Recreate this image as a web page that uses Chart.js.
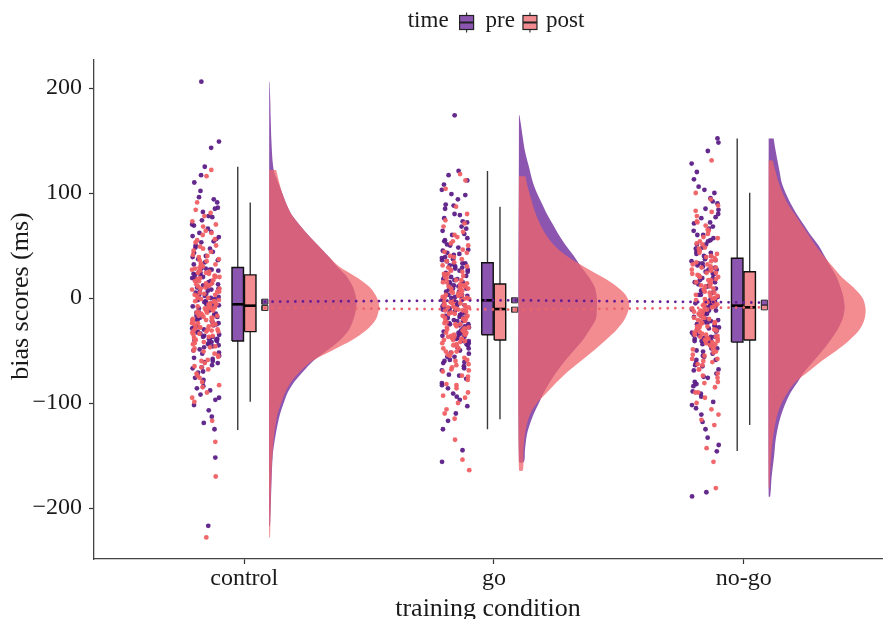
<!DOCTYPE html>
<html><head><meta charset="utf-8">
<script src="https://cdn.jsdelivr.net/npm/chart.js@4.4.0/dist/chart.umd.min.js"></script>
<style>html,body{margin:0;padding:0;background:#fff;}#wrap{width:886px;height:619px;}</style>
</head><body><div id="wrap"><canvas id="c" width="886" height="619"></canvas></div>
<script>
// ---------------- data ----------------
const conditions = ['control', 'go', 'no-go'];
const timeLabels = ['pre', 'post'];
const yTicks = [-200, -100, 0, 100, 200];
const yTitle = 'bias scores (ms)';
const xTitle = 'training condition';

const preControl = [206,149,143,125,117,110,102,96,91,86,82,78,74,70,66,62,59,56,53,50,47,44,40,37,34,31,
 28,27,25,24,22,21,19,18,16,15,13,12,10,9,8,6,5,3,2,1,-1,-2,-3,-4,-5,-6,
 -7,-9,-10,-11,-13,-14,-16,-17,-19,-20,-22,-23,-25,-26,-28,-29,-30,-32,-33,-35,-36,-37,-38,-39,-40,-41,
 -43,-45,-47,-50,-52,-55,-58,-60,-61,-64,-67,-70,-73,-76,-80,-84,-88,-92,-97,-102,-107,-113,-119,-125,-152,-217,
 32,36,39,43,48,54,58,63,69,77,85,94,-4,0,4,7,11,14,17,20,23,26,27,28,
 -8,-12,-15,-18,-21,-24,-27,-31,-34,-37,-39,-40,-42,-44,-46,-49,-53,-57,-62,-66,-71,-78,-86,-95];
const postControl = [122,116,91,84,78,73,68,64,60,56,53,50,47,44,41,39,37,35,33,31,29,28,26,25,24,23,
 21,20,19,18,17,16,14,13,12,11,10,9,8,6,5,4,3,2,0,-1,-2,-3,-4,-5,-6,-7,
 -8,-9,-10,-11,-12,-13,-14,-15,-16,-17,-18,-19,-20,-21,-22,-23,-24,-25,-26,-27,-28,-29,-30,-31,-32,-32,
 -34,-36,-38,-40,-42,-44,-46,-48,-50,-53,-56,-59,-62,-65,-68,-72,-76,-80,-85,-90,-95,-99,-117,-137,-170,-228,
 24,27,30,32,36,40,45,49,55,62,70,81,-6,-3,0,3,6,9,12,14,16,18,20,21,
 -8,-10,-12,-14,-17,-19,-21,-24,-26,-28,-30,-31,-33,-35,-37,-39,-43,-47,-51,-55,-60,-66,-74,-83];
const preGo = [174,121,117,112,108,103,98,94,89,85,80,76,72,68,64,60,57,54,51,48,45,43,41,39,37,35,
 33,32,30,29,27,26,24,23,21,20,18,17,15,14,12,11,9,8,6,5,3,2,1,0,-1,-2,
 -3,-4,-6,-7,-8,-10,-11,-12,-14,-15,-17,-18,-19,-21,-22,-24,-25,-26,-28,-29,-30,-31,-32,-33,-34,-35,
 -37,-39,-41,-43,-45,-47,-50,-53,-56,-59,-60,-62,-65,-69,-73,-77,-81,-86,-91,-97,-103,-110,-117,-125,-145,-156,
 36,38,42,46,50,55,61,66,73,79,88,99,0,3,6,9,12,15,18,21,25,28,31,33,
 -4,-7,-10,-13,-16,-19,-22,-25,-27,-30,-32,-34,-36,-38,-41,-44,-48,-52,-56,-61,-67,-74,-83,-94];
const postGo = [118,112,104,87,80,74,68,63,58,54,50,46,43,40,37,34,31,29,27,25,23,21,19,17,15,14,
 13,12,11,10,9,8,7,6,5,4,3,2,1,0,-1,-2,-3,-4,-5,-6,-7,-8,-9,-10,-10,-11,
 -12,-13,-14,-15,-17,-18,-19,-20,-22,-23,-24,-25,-27,-28,-29,-30,-32,-33,-34,-35,-36,-37,-38,-39,-40,-40,
 -42,-44,-46,-48,-51,-52,-54,-57,-60,-63,-66,-68,-70,-74,-78,-82,-86,-90,-95,-100,-106,-110,-115,-135,-154,-164,
 15,17,20,23,26,30,35,39,44,52,60,71,-9,-7,-5,-3,-1,1,3,5,7,9,11,12,
 -12,-15,-17,-20,-22,-25,-28,-31,-33,-35,-37,-39,-41,-43,-45,-48,-51,-55,-59,-64,-69,-75,-83,-93];
const preNogo = [152,148,140,128,120,113,106,100,95,90,85,80,76,72,68,64,60,57,54,51,48,46,44,42,40,39,
 37,35,33,31,29,27,25,23,21,19,17,15,13,11,9,7,5,3,1,-1,-2,-3,-4,-5,-6,-7,
 -8,-9,-11,-12,-14,-15,-17,-18,-20,-21,-23,-24,-26,-27,-29,-30,-32,-33,-35,-36,-37,-38,-39,-40,-41,-42,
 -44,-46,-48,-50,-53,-56,-59,-62,-65,-68,-72,-76,-80,-84,-89,-94,-99,-105,-111,-118,-125,-133,-140,-146,-185,-189,
 40,43,47,51,55,60,66,71,77,84,92,103,-5,-1,3,7,11,15,19,23,27,30,33,36,
 -9,-12,-15,-18,-22,-25,-28,-31,-34,-37,-39,-41,-43,-45,-48,-51,-55,-59,-64,-69,-75,-82,-91,-102];
const postNogo = [131,100,94,88,83,78,73,69,65,61,57,54,51,48,45,42,40,38,36,34,32,30,29,28,27,26,
 24,23,21,20,18,17,15,14,12,11,9,8,6,5,3,2,0,-1,-2,-3,-4,-5,-6,-7,-8,-9,
 -10,-11,-12,-14,-15,-16,-18,-19,-20,-22,-23,-24,-26,-27,-28,-30,-31,-32,-34,-35,-36,-37,-38,-39,-40,-40,
 -42,-44,-46,-48,-49,-52,-55,-58,-60,-61,-64,-68,-72,-76,-80,-85,-90,-95,-100,-106,-111,-116,-121,-143,-156,-181,
 27,29,32,35,39,43,47,52,58,64,72,82,-7,-4,-1,2,5,8,11,14,17,20,22,24,
 -11,-13,-16,-19,-21,-24,-27,-30,-33,-35,-37,-39,-41,-43,-45,-47,-51,-54,-58,-63,-68,-74,-81,-90];

// box-plot statistics (per condition)
const preQ1 = [-41, -35, -42];
const preMedian = [-6, -2.2, -7.3];
const preQ3 = [29, 33.6, 37.8];
const preLow = [-125.7, -125, -145.7];
const preHigh = [125, 121, 152];
const postQ1 = [-32, -40, -40];
const postMedian = [-7.3, -10.5, -8.9];
const postQ3 = [22, 13.3, 25];
const postLow = [-98.7, -115.5, -121];
const postHigh = [91, 87, 100.3];

// group means and their standard errors
const preMean = [-3.5, -2.2, -4.4];
const postMean = [-9.5, -11.1, -8.9];
const preSE = [2.4, 2.4, 2.4];
const postSE = [2.4, 2.4, 2.4];

// half-violin densities: [score, relative density]
const densPreControl = [[206,0.004],[190,0.01],[170,0.015],[150,0.022],[130,0.034],[120,0.05],[110,0.09],[100,0.13],[90,0.17],[80,0.22],[70,0.30],[60,0.39],[50,0.49],[40,0.59],[30,0.68],[20,0.78],[10,0.84],[0,0.87],[-10,0.87],[-20,0.845],[-30,0.80],[-40,0.71],[-50,0.58],[-60,0.44],[-70,0.34],[-80,0.25],[-90,0.185],[-100,0.145],[-110,0.11],[-120,0.085],[-130,0.065],[-140,0.048],[-150,0.035],[-170,0.025],[-190,0.018],[-217,0.008]];
const densPostControl = [[122,0.07],[110,0.10],[100,0.13],[90,0.17],[80,0.22],[70,0.30],[60,0.39],[50,0.49],[40,0.59],[30,0.70],[20,0.87],[10,1.01],[0,1.08],[-8,1.10],[-20,1.07],[-30,0.98],[-40,0.83],[-50,0.63],[-60,0.43],[-70,0.31],[-80,0.22],[-90,0.16],[-100,0.12],[-110,0.085],[-120,0.065],[-130,0.05],[-150,0.032],[-170,0.022],[-190,0.016],[-210,0.012],[-228,0.008]];
const densPreGo = [[174,0.005],[165,0.02],[155,0.035],[140,0.06],[125,0.10],[110,0.14],[100,0.18],[90,0.23],[80,0.28],[70,0.34],[60,0.40],[50,0.47],[40,0.55],[30,0.62],[20,0.70],[10,0.76],[0,0.78],[-10,0.78],[-20,0.77],[-30,0.71],[-40,0.64],[-50,0.55],[-60,0.46],[-70,0.38],[-80,0.31],[-90,0.25],[-100,0.20],[-110,0.15],[-120,0.11],[-130,0.08],[-145,0.06],[-156,0.05]];
const densPostGo = [[116,0.065],[105,0.09],[95,0.12],[85,0.15],[75,0.19],[65,0.24],[55,0.31],[45,0.41],[35,0.56],[25,0.74],[15,0.92],[5,1.05],[-3,1.10],[-10,1.10],[-20,1.06],[-30,0.98],[-40,0.87],[-50,0.75],[-60,0.62],[-70,0.49],[-80,0.38],[-90,0.28],[-100,0.18],[-110,0.115],[-120,0.08],[-130,0.06],[-145,0.045],[-164,0.04]];
const densPreNogo = [[152,0.05],[140,0.07],[130,0.09],[120,0.11],[110,0.13],[100,0.17],[90,0.22],[80,0.28],[70,0.35],[60,0.42],[50,0.50],[40,0.56],[30,0.62],[20,0.68],[10,0.72],[0,0.75],[-10,0.76],[-20,0.74],[-30,0.69],[-40,0.62],[-50,0.54],[-60,0.45],[-70,0.36],[-80,0.29],[-90,0.22],[-100,0.17],[-110,0.13],[-120,0.10],[-135,0.07],[-150,0.055],[-170,0.03],[-189,0.015]];
const densPostNogo = [[131,0.04],[120,0.07],[110,0.10],[100,0.14],[90,0.19],[80,0.26],[70,0.33],[60,0.40],[50,0.47],[40,0.55],[30,0.64],[20,0.73],[10,0.85],[0,0.94],[-10,0.97],[-20,0.96],[-30,0.91],[-40,0.81],[-50,0.68],[-60,0.53],[-70,0.40],[-80,0.27],[-90,0.19],[-100,0.13],[-110,0.09],[-120,0.065],[-135,0.04],[-150,0.025],[-165,0.015],[-181,0.008]];

// ---------------- presentation ----------------
const FONT = "'Liberation Serif', 'Times New Roman', Times, serif";
const TEXT = '#1a1a1a';
const PRE_FILL = 'rgba(101,28,148,0.75)';
const POST_FILL = 'rgba(237,101,108,0.75)';
const PRE_PT = 'rgba(92,30,135,0.95)';
const POST_PT = 'rgba(240,96,100,0.95)';
const PRE_LINE = 'rgb(101,28,148)';
const POST_LINE = 'rgb(237,101,108)';

const JIT_C = -0.154, JIT_H = 0.055;
const BOX_C = [-0.026, 0.024], BOX_H = 0.023;
const MEAN_X = 0.083, MEAN_H = 0.012;
const VIO_X = 0.1, VIO_S = 0.4;

const preScores = [preControl, preGo, preNogo];
const postScores = [postControl, postGo, postNogo];
const densPre = [densPreControl, densPreGo, densPreNogo];
const densPost = [densPostControl, densPostGo, densPostNogo];

function jit(i, seed) { const s = Math.sin(i * 12.9898 + seed * 78.233) * 43758.5453; return s - Math.floor(s); }

function lineDs(points, color, width, order, extra) {
  return Object.assign({ data: points, showLine: true, fill: false, borderColor: color, borderWidth: width,
    pointRadius: 0, tension: 0, order: order }, extra || {});
}
function rectDs(x0, x1, y0, y1, fill, stroke, w, order) {
  return { data: [{x:x0,y:y0},{x:x1,y:y0},{x:x1,y:y1},{x:x0,y:y1},{x:x0,y:y0}], showLine: true, fill: 'shape',
    backgroundColor: fill, borderColor: stroke, borderWidth: w, pointRadius: 0, tension: 0, order: order,
    borderJoinStyle: 'miter' };
}
function violinDs(cx, dens, fill, order) {
  const base = cx + VIO_X;
  const pts = dens.map(([v, d]) => ({ x: base + d * VIO_S, y: v }));
  pts.push({ x: base, y: dens[dens.length - 1][0] });
  pts.push({ x: base, y: dens[0][0] });
  return { data: pts, showLine: true, fill: 'shape', backgroundColor: fill, borderColor: 'rgba(0,0,0,0)',
    borderWidth: 0, pointRadius: 0, tension: 0.3, order: order };
}

const datasets = [];
for (let c = 0; c < conditions.length; c++) {
  const cx = c + 1;
  datasets.push(violinDs(cx, densPre[c], PRE_FILL, 9));
  datasets.push(violinDs(cx, densPost[c], POST_FILL, 8));
  datasets.push({ data: preScores[c].map((v, i) => ({ x: cx + JIT_C + JIT_H * (2 * jit(i, 0.31 + c) - 1), y: v })),
    showLine: false, pointRadius: 2.4, pointBackgroundColor: PRE_PT, pointBorderWidth: 0, order: 7 });
  datasets.push({ data: postScores[c].map((v, i) => ({ x: cx + JIT_C + JIT_H * (2 * jit(i, 0.77 + c) - 1), y: v })),
    showLine: false, pointRadius: 2.4, pointBackgroundColor: POST_PT, pointBorderWidth: 0, order: 6 });
  const stats = [
    [preQ1[c], preMedian[c], preQ3[c], preLow[c], preHigh[c], PRE_FILL],
    [postQ1[c], postMedian[c], postQ3[c], postLow[c], postHigh[c], POST_FILL]
  ];
  stats.forEach(([q1, med, q3, lo, hi, fill], k) => {
    const bx = cx + BOX_C[k];
    datasets.push(lineDs([{x:bx,y:hi},{x:bx,y:q3},{x:bx,y:null},{x:bx,y:q1},{x:bx,y:lo}], '#3a3a3a', 1.4, 5));
    datasets.push(rectDs(bx - BOX_H, bx + BOX_H, q1, q3, fill, '#111', 1.4, 4));
    datasets.push(lineDs([{x:bx-BOX_H,y:med},{x:bx+BOX_H,y:med}], '#000', 2.6, 3));
  });
  const mx = cx + MEAN_X;
  datasets.push(rectDs(mx - MEAN_H, mx + MEAN_H, preMean[c] - preSE[c], preMean[c] + preSE[c], PRE_FILL, '#333', 1, 1));
  datasets.push(rectDs(mx - MEAN_H, mx + MEAN_H, postMean[c] - postSE[c], postMean[c] + postSE[c], POST_FILL, '#333', 1, 1));
}
const dotted = { borderDash: [0, 7.6], borderCapStyle: 'round' };
datasets.push(lineDs(preMean.map((m, c) => ({ x: c + 1 + MEAN_X, y: m })), PRE_LINE, 2.8, 2, dotted));
datasets.push(lineDs(postMean.map((m, c) => ({ x: c + 1 + MEAN_X, y: m })), POST_LINE, 2.8, 2, dotted));

function drawKey(ctx, x, fill) {
  const w = 14, top = 15.5, bot = 29.5, cxk = x + w / 2;
  ctx.strokeStyle = '#333'; ctx.lineWidth = 1.2;
  ctx.beginPath(); ctx.moveTo(cxk, top - 3); ctx.lineTo(cxk, top); ctx.moveTo(cxk, bot); ctx.lineTo(cxk, bot + 3); ctx.stroke();
  ctx.fillStyle = fill; ctx.fillRect(x, top, w, bot - top);
  ctx.strokeStyle = '#222'; ctx.strokeRect(x, top, w, bot - top);
  ctx.lineWidth = 2; ctx.beginPath(); ctx.moveTo(x, (top + bot) / 2); ctx.lineTo(x + w, (top + bot) / 2); ctx.stroke();
}
const legendPlugin = {
  id: 'timeLegend',
  afterDraw(chart) {
    const ctx = chart.ctx;
    ctx.save();
    ctx.font = '23px ' + FONT;
    ctx.textBaseline = 'alphabetic';
    const wTitle = ctx.measureText('time').width;
    const wPre = ctx.measureText(timeLabels[0]).width;
    const wPost = ctx.measureText(timeLabels[1]).width;
    const total = wTitle + 11 + 14 + 12 + wPre + 8 + 14 + 9 + wPost;
    let x = 496 - total / 2;
    const base = 27;
    ctx.fillStyle = TEXT; ctx.fillText('time', x, base); x += wTitle + 11;
    drawKey(ctx, x, PRE_FILL); x += 14 + 12;
    ctx.fillStyle = TEXT; ctx.fillText(timeLabels[0], x, base); x += wPre + 8;
    drawKey(ctx, x, POST_FILL); x += 14 + 9;
    ctx.fillStyle = TEXT; ctx.fillText(timeLabels[1], x, base);
    ctx.translate(21, 296);
    ctx.rotate(-Math.PI / 2);
    ctx.font = '26px ' + FONT;
    ctx.textAlign = 'center';
    ctx.textBaseline = 'middle';
    ctx.fillText(yTitle, 0, 0);
    ctx.restore();
  }
};

new Chart(document.getElementById('c'), {
  type: 'line',
  data: { datasets: datasets },
  plugins: [legendPlugin],
  options: {
    responsive: false, animation: false, events: [],
    layout: { padding: { top: 60, left: 0, right: 0, bottom: 0 } },
    plugins: { legend: { display: false }, tooltip: { enabled: false } },
    scales: {
      x: {
        type: 'linear', min: 0.3984, max: 3.5538,
        afterBuildTicks: s => { s.ticks = conditions.map((_, i) => ({ value: i + 1 })); },
        afterFit: s => { s.height = 60; },
        ticks: { callback: v => conditions[Math.round(v) - 1] || '', font: { family: FONT, size: 24 }, color: TEXT,
          padding: 0, maxRotation: 0, autoSkip: false },
        grid: { drawOnChartArea: false, drawTicks: true, tickLength: 5, tickColor: '#333', tickWidth: 1.2 },
        border: { display: true, color: '#444', width: 1.3 },
        title: { display: true, text: xTitle, font: { family: FONT, size: 26, lineHeight: 0.72 }, color: TEXT, padding: 0 }
      },
      y: {
        type: 'linear', min: -248.57, max: 226.67,
        afterBuildTicks: s => { s.ticks = yTicks.map(v => ({ value: v })); },
        afterFit: s => { s.width = 94; },
        ticks: { callback: v => (v < 0 ? '\u2212' + Math.abs(v) : String(v)), font: { family: FONT, size: 24 }, color: TEXT, padding: 7 },
        grid: { drawOnChartArea: false, drawTicks: true, tickLength: 5, tickColor: '#333', tickWidth: 1.2 },
        border: { display: true, color: '#444', width: 1.3 },
        title: { display: false }
      }
    }
  }
});
</script>
</body></html>
